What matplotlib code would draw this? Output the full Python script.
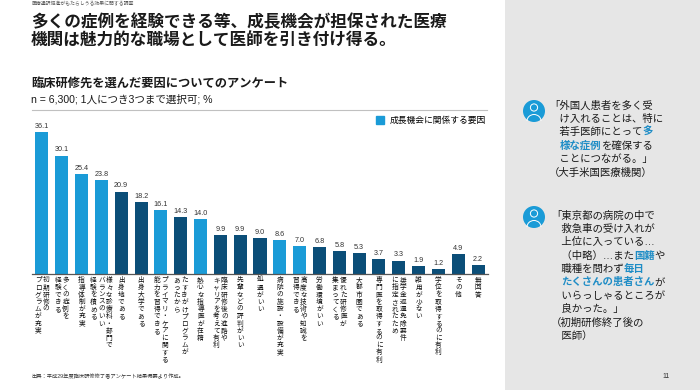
import matplotlib.pyplot as plt
from matplotlib.patches import Rectangle, Circle, Arc, Patch

plt.rcParams['font.family'] = ['Liberation Sans', 'Noto Sans CJK JP', 'DejaVu Sans']

LIGHT = '#1a9bd7'
DARK = '#0b4e78'
HILITE = '#1f8dc6'
TEXT = '#1a1a1a'

# survey data
values = [36.1, 30.1, 25.4, 23.8, 20.9, 18.2, 16.1, 14.3, 14.0, 9.9, 9.9, 9.0,
          8.6, 7.0, 6.8, 5.8, 5.3, 3.7, 3.3, 1.9, 1.2, 4.9, 2.2]
growth = [1, 1, 1, 1, 0, 0, 1, 0, 1, 0, 0, 0, 1, 1, 0, 0, 0, 0, 0, 0, 0, 0, 0]
labels = [
    ['初期研修の', 'プログラムが充実'],
    ['多くの症例を', '経験できる'],
    ['指導体制が充実'],
    ['様々な診療科・部門で', 'バランスのいい', '経験を積める'],
    ['出身地である'],
    ['出身大学である'],
    ['プライマリ・ケアに関する', '能力を習得できる'],
    ['たすきがけプログラムが', 'あったから'],
    ['熱心な指導医が在籍'],
    ['臨床研修後の進路や', 'キャリアを考えて有利'],
    ['先輩などの評判がいい'],
    ['処遇がいい'],
    ['病院の施設・設備が充実'],
    ['高度な技術や知識を', '習得できる'],
    ['労働環境がいい'],
    ['優れた研修医が', '集まってくる'],
    ['大都市圏である'],
    ['専門医を取得するのに有利'],
    ['奨学金返還免除要件', 'に指定されたため'],
    ['雑用が少ない'],
    ['学位を取得するのに有利'],
    ['その他'],
    ['無回答'],
]
legend_label = '成長機会に関係する要因'

# quotes: (text, highlighted?)
quote1 = [
    [('「外国人患者を多く受', 0)],
    [('　け入れることは、特に', 0)],
    [('　若手医師にとって', 0), ('多', 1)],
    [('　', 0), ('様な症例', 1), ('を確保する', 0)],
    [('　ことにつながる。」', 0)],
    [('（大手米国医療機関）', 0)],
]
quote2 = [
    [('「東京都の病院の中で', 0)],
    [('　救急車の受け入れが', 0)],
    [('　上位に入っている…', 0)],
    [('　（中略）…また', 0), ('国籍', 1), ('や', 0)],
    [('　職種を問わず', 0), ('毎日', 1)],
    [('　', 0), ('たくさんの患者さん', 1), ('が', 0)],
    [('　いらっしゃるところが', 0)],
    [('　良かった。」', 0)],
    [('（初期研修終了後の', 0)],
    [('　医師）', 0)],
]

fig = plt.figure(figsize=(7, 3.9), dpi=100)

# background / decoration layer in pixel units
deco = fig.add_axes([0, 0, 1, 1], zorder=0)
deco.set_xlim(0, 700)
deco.set_ylim(390, 0)
deco.axis('off')
deco.add_patch(Rectangle((505, 0), 195, 390, color='#e6e6e6', lw=0))
deco.plot([32, 487], [110, 110], color='#c0c0c0', lw=0.8)

deco.text(31, 3.5, '医療通訳促進がもたらしうる効果に関する調査', fontsize=3.5, color='#555555', va='center')
deco.text(31, 22, '多くの症例を経験できる等、成長機会が担保された医療', fontsize=12, fontweight='bold', color=TEXT, va='center')
deco.text(31, 41, '機関は魅力的な職場として医師を引き付け得る。', fontsize=12, fontweight='bold', color=TEXT, va='center')
deco.text(31, 84, '臨床研修先を選んだ要因についてのアンケート', fontsize=8.8, fontweight='bold', color=TEXT, va='center')
deco.text(31, 99.5, 'n = 6,300; 1人につき3つまで選択可; %', fontsize=7.6, color=TEXT, va='center')
deco.text(31, 377, '出典：平成29年度臨床研修修了者アンケート結果概要より作成。', fontsize=3.8, color='#333333', va='center')
deco.text(666, 377, '11', fontsize=5, color='#333333', va='center', ha='center')


def icon(cx, cy):
    deco.add_patch(Circle((cx, cy), 11, color=LIGHT, lw=0))
    deco.add_patch(Circle((cx, cy - 3.5), 3.6, fill=False, ec='white', lw=0.7))
    deco.add_patch(Arc((cx, cy + 10), 14, 13, theta1=180, theta2=360, ec='white', lw=0.7))


def quote(x, y, lines, step=13.4):
    for k, segs in enumerate(lines):
        prev = None
        for txt, hl in segs:
            kw = dict(fontsize=7.5, color=HILITE if hl else TEXT,
                      fontweight='bold' if hl else 'normal', va='bottom', ha='left')
            if prev is None:
                prev = deco.annotate(txt, xy=(x, y + k * step + 5.5), xycoords='data', **kw)
            else:
                prev = deco.annotate(txt, xy=(1, 0), xycoords=prev, **kw)


icon(534, 111)
quote(549, 105, quote1)
icon(534, 217)
quote(551, 215, quote2)

# bar chart
ax = fig.add_axes([32 / 700, 116.5 / 390, 456 / 700, 161.5 / 390], zorder=1)
ax.patch.set_alpha(0)
x = range(len(values))
colors = [LIGHT if g else DARK for g in growth]
ax.bar(x, values, width=0.66, color=colors)
ax.set_xlim(-0.5, len(values) - 0.5)
ax.set_ylim(0, 41.2)
for side in ['top', 'right', 'left']:
    ax.spines[side].set_visible(False)
ax.spines['bottom'].set_color('#555555')
ax.spines['bottom'].set_linewidth(0.9)
ax.set_xticks([])
ax.set_yticks([])

for i, v in enumerate(values):
    ax.annotate(f'{v:.1f}', xy=(i, v), xytext=(0, 1.5), textcoords='offset points',
                ha='center', va='bottom', fontsize=5.2, color='#333333')

COL = 5.6   # points between columns
STEP = 5.2  # points between characters
for i, lines in enumerate(labels):
    n = len(lines)
    for k, line in enumerate(lines):
        dx = ((n - 1) / 2 - k) * COL
        for j, ch in enumerate(line.replace('ー', '丨')):
            ax.annotate(ch, xy=(i, 0), xytext=(dx, -(2.6 + (j + 0.5) * STEP)),
                        textcoords='offset points', ha='center', va='center',
                        fontsize=4.8, color='#111111', annotation_clip=False)

ax.legend(handles=[Patch(color=LIGHT, label=legend_label)], loc='upper left',
          bbox_to_anchor=(0.755, 0.975), frameon=False, fontsize=6.3,
          handlelength=0.9, handleheight=0.9, handletextpad=0.6,
          borderpad=0, borderaxespad=0)

fig.savefig('out.png', dpi=100)
